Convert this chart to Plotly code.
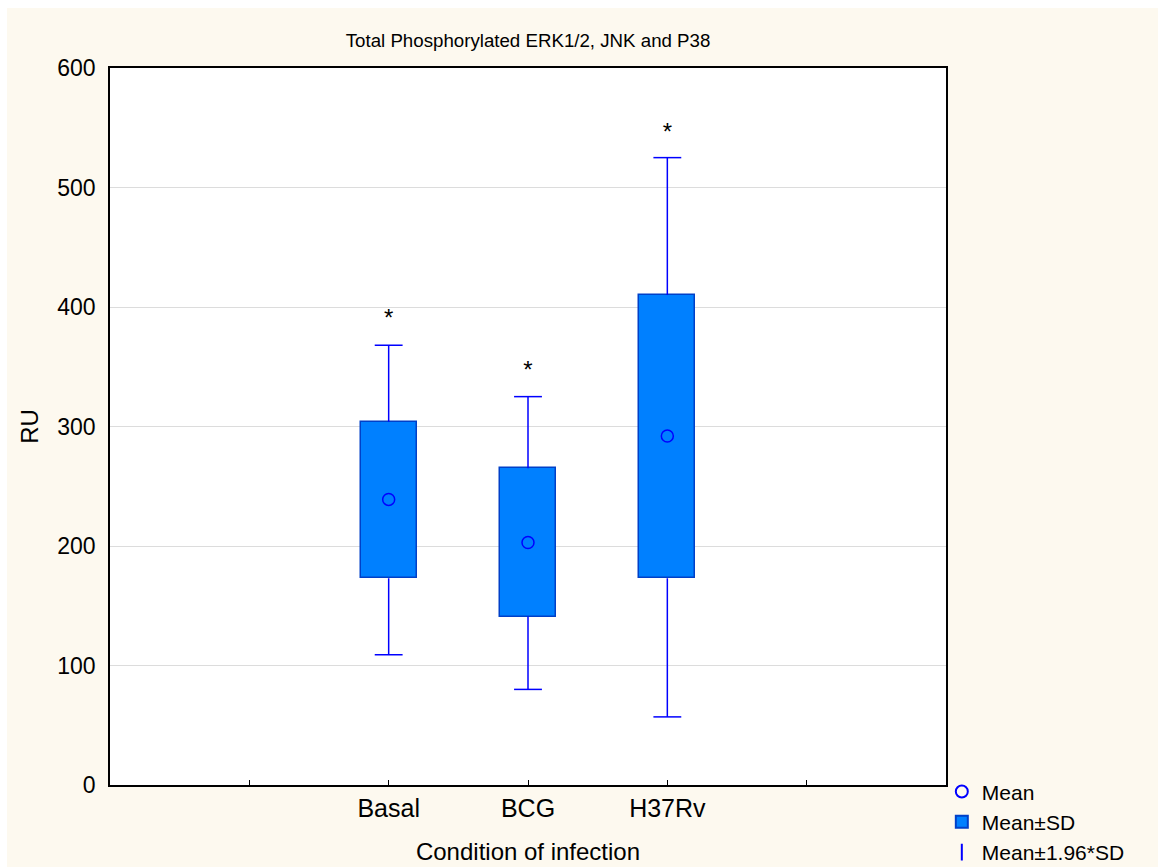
import plotly.graph_objects as go

categories = ["Basal", "BCG", "H37Rv"]
positions = [1, 2, 3]
means = [239, 203, 292]
sd_low = [173, 141, 173]
sd_high = [304, 265, 410]
ci_low = [109, 80, 57]
ci_high = [368, 325, 525]
star_y = [389, 346, 545]
tick_positions = [0, 1, 2, 3, 4]
tick_labels = ["", "Basal", "BCG", "H37Rv", ""]

FONT = "Liberation Sans, Arial, sans-serif"
BOX_FILL = "#0080FF"
BOX_LINE = "#0040C8"
WHISK = "#0000FF"
CREAM = "#FDF9EF"

fig = go.Figure()

# whiskers (Mean±1.96*SD): from box edge to whisker end, plus caps
wx, wy = [], []
cap = 0.1
for p, lo, hi, bl, bh in zip(positions, ci_low, ci_high, sd_low, sd_high):
    wx += [p, p, None, p - cap, p + cap, None, p, p, None, p - cap, p + cap, None]
    wy += [bh, hi, None, hi, hi, None, bl, lo, None, lo, lo, None]
fig.add_trace(go.Scatter(x=wx, y=wy, mode="lines", line=dict(color=WHISK, width=1.5),
                         showlegend=False, hoverinfo="skip"))

# boxes (Mean±SD)
fig.add_trace(go.Bar(x=positions, y=[h - l for h, l in zip(sd_high, sd_low)], base=sd_low,
                     width=0.4, marker=dict(color=BOX_FILL, line=dict(color=BOX_LINE, width=1.5)),
                     name="Mean±SD", showlegend=False))

# mean markers
fig.add_trace(go.Scatter(x=positions, y=means, mode="markers",
                         marker=dict(symbol="circle-open", size=12, color=WHISK, line=dict(width=1.5)),
                         name="Mean", showlegend=False))

# asterisks
fig.add_trace(go.Scatter(x=positions, y=star_y, mode="text", text=["*"] * 3,
                         textfont=dict(family=FONT, size=24, color="black"),
                         showlegend=False, hoverinfo="skip"))

# legend entries
fig.add_trace(go.Scatter(x=[None], y=[None], mode="markers", name="Mean",
                         marker=dict(symbol="circle-open", size=10, color=WHISK, line=dict(width=1.5))))
fig.add_trace(go.Bar(x=[None], y=[None], name="Mean±SD",
                     marker=dict(color=BOX_FILL, line=dict(color=BOX_LINE, width=1.5))))
fig.add_trace(go.Scatter(x=[None], y=[None], mode="markers", name="Mean±1.96*SD",
                         marker=dict(symbol="line-ns-open", size=18, color=WHISK, line=dict(width=1.5, color=WHISK))))

# thin white border at the top and left of the page, as in the reference
fig.add_shape(type="rect", xref="paper", yref="paper", x0=-0.14, x1=-0.1232, y0=-0.2, y1=1.2,
              fillcolor="white", line=dict(width=0), layer="above")
fig.add_shape(type="rect", xref="paper", yref="paper", x0=-0.14, x1=1.3, y0=1.0837, y1=1.2,
              fillcolor="white", line=dict(width=0), layer="above")

fig.update_layout(
    width=1158, height=867,
    margin=dict(l=110, r=212, t=68, b=82, autoexpand=False),
    paper_bgcolor=CREAM,
    plot_bgcolor="white",
    font=dict(family=FONT, size=20, color="black"),
    title=dict(text="Total Phosphorylated ERK1/2, JNK and P38", x=0.456, xanchor="center",
               y=0.953, yanchor="middle", font=dict(size=18.7)),
    showlegend=True,
    legend=dict(x=0.995, xanchor="left", y=0.019, yanchor="top", bgcolor="rgba(0,0,0,0)",
                font=dict(size=21), tracegroupgap=0, itemsizing="constant"),
    bargap=0,
)
fig.update_xaxes(range=[-1, 5], tickvals=tick_positions, ticktext=tick_labels,
                 ticks="inside", ticklen=5, tickcolor="black", tickfont=dict(size=25),
                 showgrid=False, zeroline=False,
                 showline=True, linecolor="black", linewidth=1.5, mirror=True,
                 title=dict(text="Condition of infection", standoff=22))
fig.update_yaxes(range=[0, 600], dtick=100, ticks="", tickfont=dict(size=23), ticklabelstandoff=8,
                 showgrid=True, gridcolor="#DCDCDC",
                 zeroline=False, showline=True, linecolor="black", linewidth=1.5, mirror=True,
                 title=dict(text="RU", standoff=12))

fig.write_html("out.html")
